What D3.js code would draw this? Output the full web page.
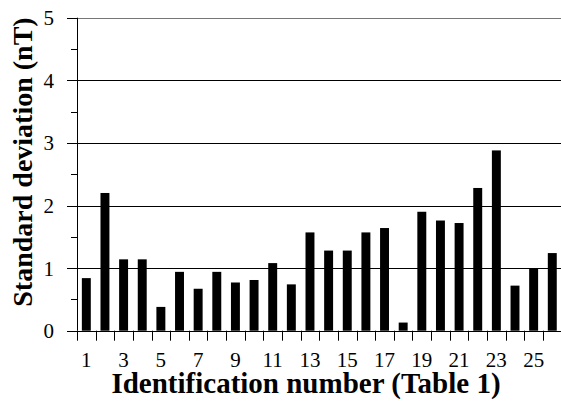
<!DOCTYPE html>
<html>
<head>
<meta charset="utf-8">
<script src="https://cdn.jsdelivr.net/npm/d3@7"></script>
<style>
  html, body { margin: 0; padding: 0; background: #fff; }
  svg { display: block; }
</style>
</head>
<body>
<svg id="chart" width="561" height="401"></svg>
<script>
// Identification numbers (Table 1) and their standard deviations in nT
const ids = d3.range(1, 27);
const stdDev = [0.84, 2.20, 1.14, 1.14, 0.38, 0.94, 0.67, 0.94, 0.77, 0.81,
                1.08, 0.74, 1.57, 1.28, 1.28, 1.57, 1.64, 0.13, 1.90, 1.76,
                1.72, 2.28, 2.88, 0.72, 1.00, 1.24];
const xTickLabels = [1, 3, 5, 7, 9, 11, 13, 15, 17, 19, 21, 23, 25];
const yMajorTicks = [0, 1, 2, 3, 4, 5];
const yMinorTicks = [0.5, 1.5, 2.5, 3.5, 4.5];

const FONT = '"Liberation Serif"';

const svg = d3.select("#chart");
const plot = { left: 77, right: 561.6, top: 17.7, bottom: 330.7 };

const x = d3.scaleBand().domain(ids).range([plot.left, plot.right])
  .paddingInner(0.52).paddingOuter(0.26);
const y = d3.scaleLinear().domain([0, 5]).range([plot.bottom, plot.top]);
const py = d => Math.round(y(d)) + 0.5;

// horizontal gridlines
svg.append("g").selectAll("line").data(yMajorTicks.filter(d => d > 0)).join("line")
  .attr("x1", plot.left).attr("x2", 561)
  .attr("y1", py).attr("y2", py)
  .attr("stroke", d => d === 5 ? "#777" : "#000").attr("stroke-width", 1);

// bars
svg.append("g").selectAll("rect").data(ids).join("rect")
  .attr("x", d => x(d))
  .attr("width", x.bandwidth())
  .attr("y", (d, i) => y(stdDev[i]))
  .attr("height", (d, i) => y(0) - y(stdDev[i]))
  .attr("fill", "#000");

// y axis line with major and minor ticks
const ya = svg.append("g");
ya.append("line").attr("x1", plot.left + 0.5).attr("x2", plot.left + 0.5)
  .attr("y1", y(5)).attr("y2", y(0)).attr("stroke", "#000");
ya.selectAll("line.major").data(yMajorTicks).join("line").attr("class", "major")
  .attr("x1", plot.left - 10).attr("x2", plot.left)
  .attr("y1", py).attr("y2", py)
  .attr("stroke", "#000");
ya.selectAll("line.minor").data(yMinorTicks).join("line").attr("class", "minor")
  .attr("x1", plot.left - 6).attr("x2", plot.left)
  .attr("y1", py).attr("y2", py)
  .attr("stroke", "#000");
ya.selectAll("text").data(yMajorTicks).join("text")
  .attr("x", 54).attr("y", d => y(d) + 7.5)
  .attr("text-anchor", "end").attr("font-size", 21)
  .style("font-family", FONT).attr("fill", "#000")
  .text(d => d);

// x axis line, boundary ticks and labels
const xa = svg.append("g");
xa.append("line").attr("x1", plot.left - 10).attr("x2", 561)
  .attr("y1", py(0)).attr("y2", py(0))
  .attr("stroke", "#000");
xa.selectAll("line.tick").data(d3.range(0, ids.length + 1)).join("line").attr("class", "tick")
  .attr("x1", i => Math.round(plot.left + i * x.step()) + 0.5)
  .attr("x2", i => Math.round(plot.left + i * x.step()) + 0.5)
  .attr("y1", y(0)).attr("y2", y(0) + 10)
  .attr("stroke", "#000");
xa.selectAll("text").data(xTickLabels).join("text")
  .attr("x", d => x(d) + x.bandwidth() / 2).attr("y", 367)
  .attr("text-anchor", "middle").attr("font-size", 21)
  .style("font-family", FONT).attr("fill", "#000")
  .text(d => d);

// axis titles
svg.append("text")
  .attr("x", 306).attr("y", 393)
  .attr("text-anchor", "middle").attr("font-size", 29).attr("font-weight", "bold")
  .style("font-family", FONT).attr("fill", "#000")
  .text("Identification number (Table 1)");
svg.append("text")
  .attr("transform", "translate(32,162) rotate(-90)")
  .attr("text-anchor", "middle").attr("font-size", 28).attr("font-weight", "bold")
  .style("font-family", FONT).attr("fill", "#000")
  .text("Standard deviation (nT)");
</script>
</body>
</html>
